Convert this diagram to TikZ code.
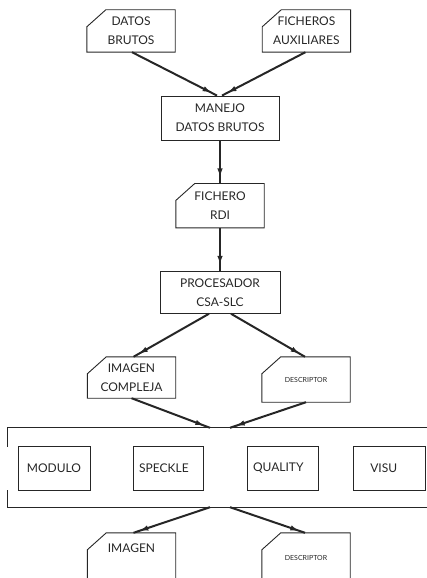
\documentclass[tikz,border=0pt]{standalone}
\usepackage{fontspec}
\setmainfont{Lato}
\usetikzlibrary{
  arrows.meta,
  positioning,
  decorations.markings
}

\begin{document}
\begin{tikzpicture}[
  x=1pt, y=-1pt,
  every node/.style={font=\fontsize{12}{19}\selectfont, text=black!85},
  box/.style={draw=black!85, line width=0.9pt, minimum width=#1, minimum height=44pt, inner sep=0pt, align=center},
  card/.style={minimum width=88pt, minimum height=#1, inner sep=0pt, align=center,
    append after command={\pgfextra{\draw[black!85, line width=0.9pt]
      ([xshift=19pt]\tikzlastnode.north west) -- (\tikzlastnode.north east) -- (\tikzlastnode.south east)
      -- (\tikzlastnode.south west) -- ([yshift=-17pt]\tikzlastnode.north west) -- cycle;}}},
  small/.style={font=\fontsize{7}{8}\selectfont},
  flow/.style={line width=2pt, black!85, postaction={decorate},
    decoration={markings, mark=at position -6pt with {\arrow{Latex[length=9pt,width=5.5pt]}}}}
]
  \useasboundingbox (0,0) rectangle (427,578);

  % Entradas
  \node[card=42pt] (datos) at (131,31) {DATOS\\BRUTOS};
  \node[card=42pt, right=87pt of datos] (aux) {FICHEROS\\AUXILIARES};

  % Cadena principal
  \node[box=118pt] (manejo) at (220,118) {MANEJO\\DATOS BRUTOS};
  \node[card=44pt, below=43pt of manejo] (rdi) {FICHERO\\RDI};
  \node[box=120pt, minimum height=42pt, below=43pt of rdi] (proc) {PROCESADOR\\CSA-SLC};

  % Salidas del procesador
  \node[card=41pt] (compleja) at (131.5,377.5) {IMAGEN\\COMPLEJA};
  \node[card=45pt, small] (desc) at (306,379.5) {DESCRIPTOR};

  % Herramientas
  \node[minimum width=432pt, minimum height=79pt] (grupo) at (224,467.5) {};
  \node[box=72pt] (modulo) at (54,468) {MODULO};
  \node[box=70pt, right=43pt of modulo] (speckle) {SPECKLE\hspace{10pt}};
  \node[box=71pt, right=43pt of speckle] (quality) {QUALITY\hspace{10pt}};
  \node[box=72pt, right=34pt of quality] (visu) {VISU\hspace{12pt}};
  \draw[black!85, line width=0.9pt] (grupo.north east) -- (grupo.north west) -- ([yshift=-19pt]grupo.north west);
  \draw[black!85, line width=0.9pt] ([yshift=17pt]grupo.south west) -- (grupo.south west) -- (grupo.south east);

  % Resultados
  \node[card=50pt] (imagen) at (131.5,558) {IMAGEN\\~};
  \node[card=50pt, small] (desc2) at (306,558) {DESCRIPTOR};

  % Flechas
  \draw[flow] ([xshift=1pt]datos.south) -- ([xshift=-3pt]manejo.north);
  \draw[flow] ([xshift=-1pt]aux.south) -- ([xshift=2pt]manejo.north);
  \draw[flow] (manejo.south) -- (manejo.south |- rdi.north);
  \draw[flow] (rdi.south) -- (rdi.south |- proc.north);
  \draw[flow] ([xshift=-11pt]proc.south) -- ([xshift=2pt]compleja.north);
  \draw[flow] ([xshift=11pt]proc.south) -- ([xshift=-1pt]desc.north);
  \draw[flow] (compleja.south) -- ([xshift=-14pt]grupo.north);
  \draw[flow] (desc.south) -- ([xshift=6pt]grupo.north);
  \draw[flow] ([xshift=-14pt]grupo.south) -- ([xshift=2pt]imagen.north);
  \draw[flow] ([xshift=6pt]grupo.south) -- ([xshift=-1pt]desc2.north);
\end{tikzpicture}
\end{document}
